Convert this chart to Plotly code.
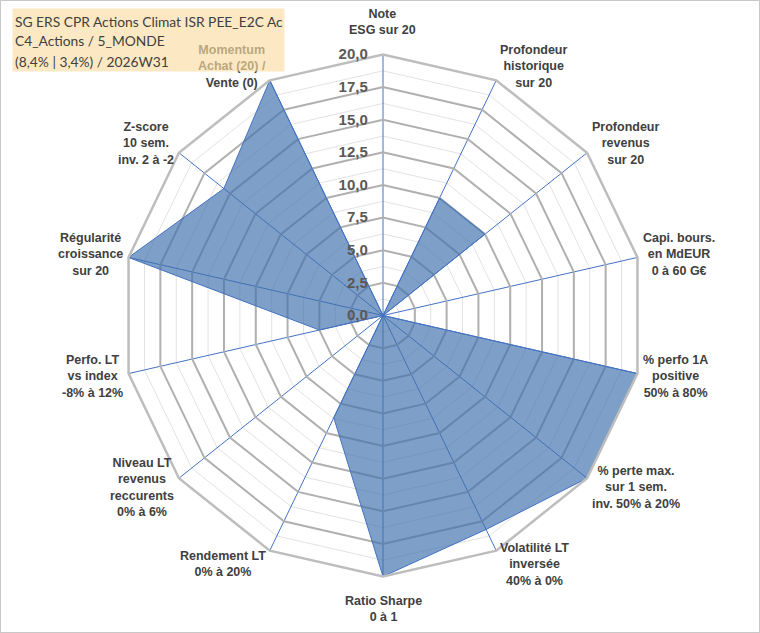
import math
import plotly.graph_objects as go

categories = [
    "Note<br>ESG sur 20",
    "Profondeur<br>historique<br>sur 20",
    "Profondeur<br>revenus<br>sur 20",
    "Capi. bours.<br>en MdEUR<br>0 à 60 G€",
    "% perfo 1A<br>positive<br>50% à 80%",
    "% perte max.<br>sur 1 sem.<br>inv. 50% à 20%",
    "Volatilité LT<br>inversée<br>40% à 0%",
    "Ratio Sharpe<br>0 à 1",
    "Rendement LT<br>0% à 20%",
    "Niveau LT<br>revenus<br>reccurents<br>0% à 6%",
    "Perfo. LT<br>vs index<br>-8% à 12%",
    "Régularité<br>croissance<br>sur 20",
    "Z-score<br>10 sem.<br>inv. 2 à -2",
    "Momentum<br>Achat (20) /<br>Vente (0)",
]
values = [0, 10, 10, 0, 20, 20, 18.2, 20, 8.7, 0, 5, 20, 15.6, 20]

title_lines = [
    "SG ERS CPR Actions Climat ISR PEE_E2C Ac",
    "C4_Actions / 5_MONDE",
    "(8,4% | 3,4%) / 2026W31",
]

theta_closed = categories + categories[:1]
r_closed = values + values[:1]

fig = go.Figure()

fig.add_trace(go.Scatterpolar(
    r=r_closed, theta=theta_closed, mode="lines",
    line=dict(color="rgba(0,0,0,0)", width=0),
    hoverinfo="skip", showlegend=False, subplot="polar",
))

fig.add_trace(go.Scatterpolar(
    r=r_closed, theta=theta_closed, mode="lines",
    fill="toself", fillcolor="rgba(62,112,172,0.67)",
    line=dict(color="#4472C4", width=1),
    showlegend=False, subplot="polar2",
))

W, H = 760, 633
cx, cy, R = 383, 315.5, 261
domain = dict(x=[(cx - R) / W, (cx + R) / W], y=[(H - cy - R) / H, (H - cy + R) / H])
font_family = "Liberation Sans, Arial, sans-serif"

common_ang = dict(
    type="category", categoryarray=categories, direction="clockwise",
    rotation=90,
)

fig.update_layout(
    width=W, height=H,
    margin=dict(l=0, r=0, t=0, b=0),
    paper_bgcolor="white",
    separators=", ",
    showlegend=False,
    polar=dict(
        domain=domain, bgcolor="white", gridshape="linear",
        radialaxis=dict(range=[0, 20], dtick=1.25, tick0=0, showticklabels=False,
                        ticks="", showline=False, gridcolor="#E2E2E2", gridwidth=1),
        angularaxis=dict(**common_ang, showticklabels=False, ticks="",
                         showgrid=False, showline=False),
    ),
    polar2=dict(
        domain=domain, bgcolor="rgba(0,0,0,0)", gridshape="linear",
        radialaxis=dict(range=[0, 20], dtick=2.5, tick0=0, tickformat=".1f",
                        angle=90, side="counterclockwise", tickangle=90,
                        ticks="", ticksuffix="\u00a0\u00a0\u00a0",
                        showline=False, gridcolor="#B0B0B0", gridwidth=2.2,
                        tickfont=dict(family=font_family, size=15, color="#595959", weight="bold")),
        angularaxis=dict(**common_ang, ticks="", showticklabels=False,
                         showgrid=True, gridcolor="#4472C4", gridwidth=1,
                         showline=True, linecolor="#BDBDBD", linewidth=2.5),
    ),
)

# category labels placed outside each vertex, lines centred (as in the reference)
n = len(categories)
rx, ry, pad = 255, 266, 10
for i, lab in enumerate(categories):
    a = math.radians(360 * i / n)
    s, c = math.sin(a), math.cos(a)
    px = cx + (rx + pad) * s
    py = cy - (ry + pad) * c
    xa = "left" if s > 0.2 else ("right" if s < -0.2 else "center")
    ya = "bottom" if c > 0.95 else ("top" if c < -0.95 else "middle")
    fig.add_annotation(
        xref="paper", yref="paper", x=px / W, y=1 - py / H,
        xanchor=xa, yanchor=ya, align="center", showarrow=False, text=lab,
        font=dict(family=font_family, size=12.5, color="#404040", weight="bold"),
    )

# title box (semi-transparent, covering the label beneath as in the reference)
fig.add_annotation(
    xref="paper", yref="paper", x=12 / W, y=1 - 8 / H,
    xanchor="left", yanchor="top", text=" ", showarrow=False,
    width=271, height=62, borderpad=0, bgcolor="rgba(251,221,163,0.65)",
)
for i, line in enumerate(title_lines):
    fig.add_annotation(
        xref="paper", yref="paper", x=13 / W, y=1 - (21 + 20 * i) / H,
        xanchor="left", yanchor="middle", align="left",
        text=line, showarrow=False,
        font=dict(family="Lato, sans-serif", size=13.8, color="#404040"),
    )

fig.add_shape(type="rect", xref="paper", yref="paper", x0=0, x1=1, y0=0, y1=1,
              line=dict(color="#C8C8C8", width=2), fillcolor="rgba(0,0,0,0)")

fig.write_html("out.html", config={"displayModeBar": False},
               post_script="document.body.style.margin='0';")
